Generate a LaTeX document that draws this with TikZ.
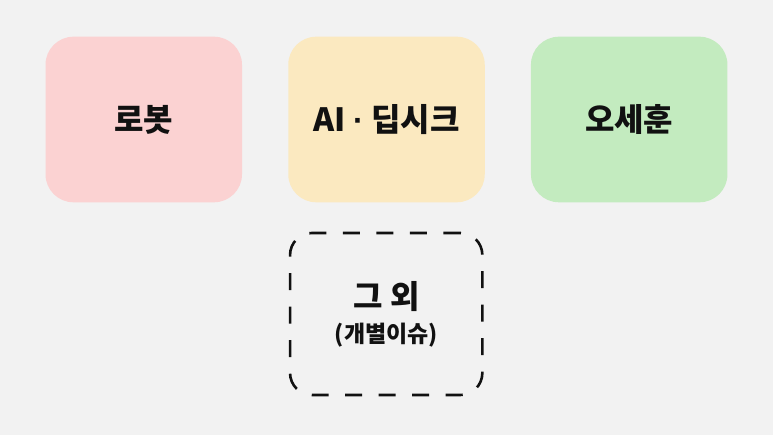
\documentclass[tikz,border=0pt]{standalone}
\usepackage{fontspec}
\setmainfont{Noto Sans CJK KR}
\newfontfamily\kr{Noto Sans CJK KR}
\newfontfamily\latinsans{Liberation Sans}
\definecolor{bg}{HTML}{F2F2F2}
\definecolor{pinkbox}{HTML}{FBD2D2}
\definecolor{yellowbox}{HTML}{FBE9C0}
\definecolor{greenbox}{HTML}{C3EBBF}
\definecolor{ink}{HTML}{111111}
\tikzset{
  topic/.style={rectangle, rounded corners=28pt, minimum width=196.5pt, minimum height=165.6pt, inner sep=0pt, text=ink, font=\kr\bfseries\fontsize{32}{36}\selectfont},
  otherbox/.style={rectangle, rounded corners=22pt, draw=ink, line width=2.6pt, dash pattern=on 17pt off 16.5pt, minimum width=192.3pt, minimum height=162pt, inner sep=0pt},
  bigtext/.style={text=ink, font=\kr\bfseries\fontsize{32}{36}\selectfont, inner sep=0pt},
  smalltext/.style={text=ink, font=\kr\bfseries\fontsize{23}{27}\selectfont, inner sep=0pt}
}
\begin{document}
\begin{tikzpicture}[x=1pt,y=-1pt]
\fill[bg] (0,0) rectangle (773,435);
\useasboundingbox (0,0) rectangle (773,435);
\node[topic, fill=pinkbox] (robot) at (143.75,119.5) {로봇};
\node[topic, fill=yellowbox] (ai) at (386.5,119.5) {AI {\latinsans\bfseries ·} 딥시크};
\node[topic, fill=greenbox] (oh) at (629.2,119.5) {오세훈};
\node[otherbox] (other) at (386.2,314) {};
\node[bigtext] (otherlabel) at (386.7,297) {그 외};
\node[smalltext] (othersub) at (386.5,335.5) {(개별이슈)};
\end{tikzpicture}
\end{document}
